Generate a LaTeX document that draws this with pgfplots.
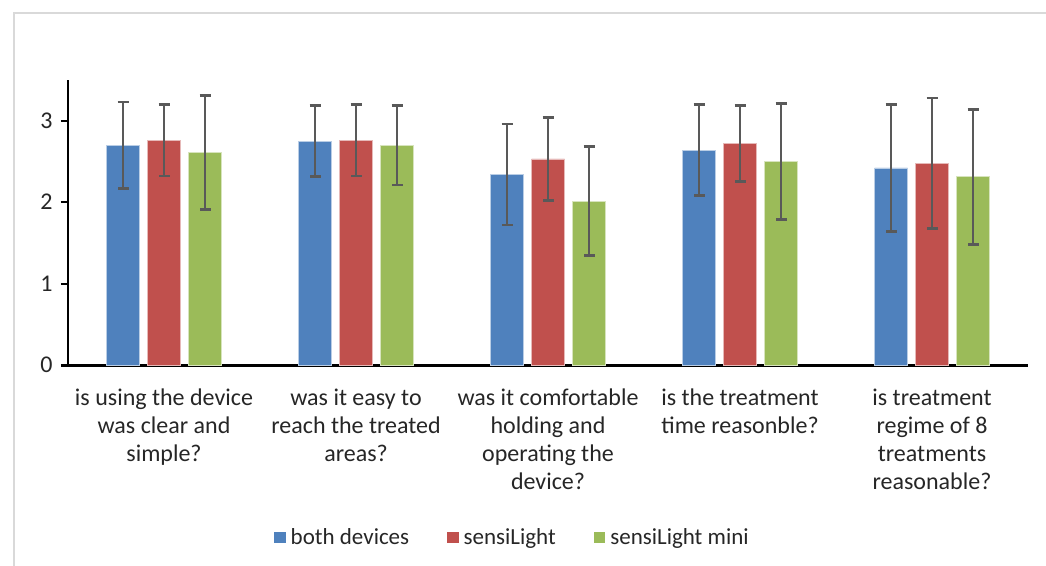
\documentclass[border=0pt]{standalone}
\usepackage{fontspec}
\setmainfont{Carlito}
\usepackage{pgfplots}
\pgfplotsset{compat=1.18}
\definecolor{cblue}{HTML}{4F81BD}
\definecolor{cred}{HTML}{C0504D}
\definecolor{cgreen}{HTML}{9BBB59}
\definecolor{errc}{HTML}{595959}
\begin{document}
\begin{tikzpicture}[x=1pt,y=1pt]
\path[use as bounding box] (0,0) rectangle (1046,565);
\draw[color=black!15, line width=2pt] (14,-10) rectangle (1070,552);
\begin{axis}[
  at={(68pt,200pt)}, anchor=south west,
  scale only axis, width=960pt, height=285pt,
  xmin=-0.5, xmax=4.5, ymin=0, ymax=3.5,
  axis x line*=bottom, axis y line*=left,
  x axis line style={line width=3pt, -, shorten <=-7pt},
  y axis line style={line width=2pt, -},
  ytick={0,1,2,3},
  tick align=outside, major tick length=7pt,
  ytick style={line width=2pt, black},
  xtick={0,1,2,3,4},
  xtick style={draw=none},
  xticklabels={{is using the device\\was clear and\\simple?},
               {was it easy to\\reach the treated\\areas?},
               {was it comfortable\\holding and\\operating the\\device?},
               {is the treatment\\time reasonble?},
               {is treatment\\regime of 8\\treatments\\reasonable?}},
  xticklabel style={align=center, font=\fontsize{24}{28}\selectfont, color=black!85, anchor=north, yshift=-13pt},
  yticklabel style={font=\fontsize{24}{28}\selectfont, color=black!85, xshift=-5pt},
  /pgf/number format/assume math mode=true,
  ybar=8pt, bar width=33pt,
  legend columns=3,
  legend style={at={(0.2115,-0.6035)}, anchor=west, draw=none, fill=none,
    font=\fontsize{23}{28}\selectfont, text=black!85,
    /tikz/every even column/.append style={column sep=36pt}},
  legend image code/.code={\path[#1,draw=none] (0pt,-5.5pt) rectangle (11.5pt,5.5pt);},
  error bars/error bar style={line width=2.8pt, color=errc},
  error bars/error mark options={rotate=90, mark size=5.5pt, line width=2.8pt, color=errc},
]
\addplot+[fill=cblue, draw=white!60!cblue, line width=0.8pt,
  error bars/.cd, y dir=both, y explicit]
  coordinates {(0,2.70) +- (0,0.53) (1,2.75) +- (0,0.44) (2,2.34) +- (0,0.62) (3,2.64) +- (0,0.56) (4,2.42) +- (0,0.78)};
\addplot+[fill=cred, draw=white!60!cred, line width=0.8pt,
  error bars/.cd, y dir=both, y explicit]
  coordinates {(0,2.76) +- (0,0.44) (1,2.76) +- (0,0.44) (2,2.53) +- (0,0.51) (3,2.72) +- (0,0.47) (4,2.48) +- (0,0.80)};
\addplot+[fill=cgreen, draw=white!60!cgreen, line width=0.8pt,
  error bars/.cd, y dir=both, y explicit]
  coordinates {(0,2.61) +- (0,0.70) (1,2.70) +- (0,0.49) (2,2.01) +- (0,0.67) (3,2.50) +- (0,0.71) (4,2.31) +- (0,0.83)};
\legend{\hspace{3pt}both devices, \hspace{3pt}sensiLight, \hspace{3pt}sensiLight mini}
\end{axis}
\end{tikzpicture}
\end{document}
